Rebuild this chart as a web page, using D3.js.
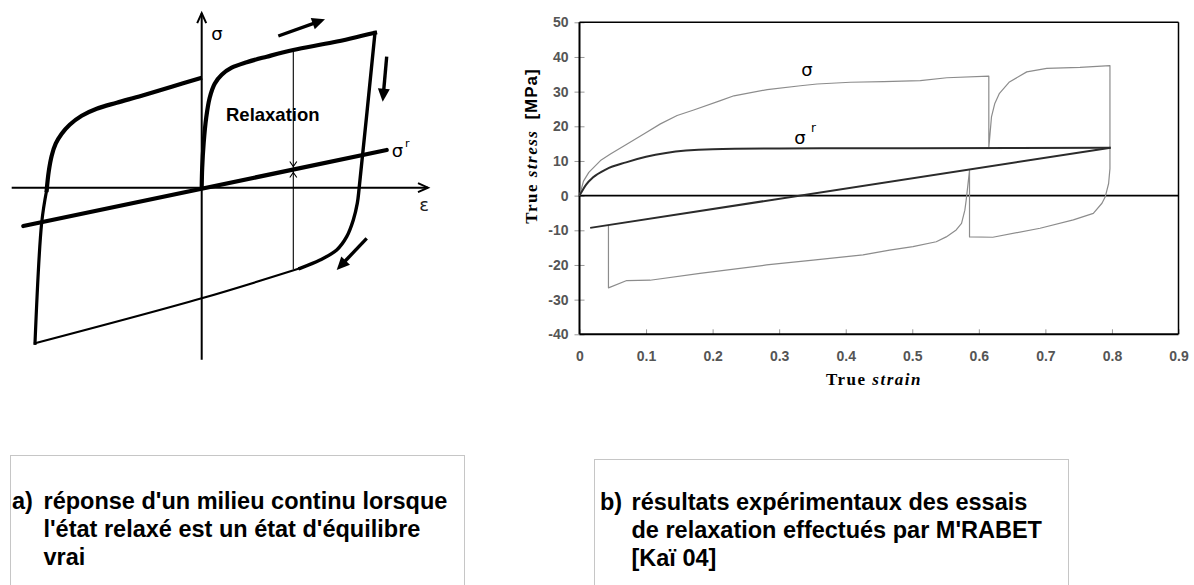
<!DOCTYPE html>
<html>
<head>
<meta charset="utf-8">
<script src="https://cdn.jsdelivr.net/npm/d3@7"></script>
<style>
  html, body { margin: 0; padding: 0; background: #fff; }
  svg { display: block; }
</style>
</head>
<body>
<svg id="fig" width="1194" height="585"></svg>
<script>
// ---------- Panel b: relaxation test, true strain vs true stress (MPa) ----------
const strainTicks = [0, 0.1, 0.2, 0.3, 0.4, 0.5, 0.6, 0.7, 0.8, 0.9];
const stressTicks = [-40, -30, -20, -10, 0, 10, 20, 30, 40, 50];

// total stress sigma, in the order it was recorded
const sigmaFirstLoading = [[0,0],[0.006,4.2],[0.014,6.7],[0.0315,10.1],[0.0465,12.0],[0.0716,14.9],[0.0966,17.8],[0.1216,20.7],[0.1467,23.1],[0.1716,24.7],[0.2117,27.4],[0.232,28.8],[0.282,30.6],[0.332,31.7],[0.357,32.2],[0.407,32.7],[0.457,32.9],[0.512,33.2],[0.552,34.0],[0.615,34.5]];
const sigmaFirstRelaxation = [[0.615,34.5],[0.615,13.9]];
const sigmaReloading = [[0.615,13.9],[0.616,16.0],[0.619,22.7],[0.624,26.6],[0.631,29.5],[0.646,32.8],[0.672,35.7],[0.702,36.7],[0.752,37.0],[0.797,37.5]];
const sigmaUnloading = [[0.797,37.5],[0.797,7.8],[0.795,3.5],[0.790,-0.3],[0.785,-2.2],[0.772,-5.1],[0.742,-7.0],[0.692,-9.4],[0.621,-12.0],[0.586,-11.9]];
const sigmaSecondRelaxation = [[0.586,-11.9],[0.586,7.3]];
const sigmaCompression = [[0.586,7.3],[0.581,-1.3],[0.579,-4.2],[0.574,-8.0],[0.566,-9.9],[0.551,-11.9],[0.536,-13.3],[0.501,-14.7],[0.466,-15.7],[0.426,-17.1],[0.351,-18.6],[0.281,-20.0],[0.181,-22.4],[0.106,-24.4],[0.071,-24.5],[0.0435,-26.6]];
const sigmaThirdRelaxation = [[0.0435,-26.6],[0.0435,-8.5]];

// relaxed stress sigma^r
const sigmaRelaxedCurve = [[0,0],[0.01,3.2],[0.02,5.2],[0.04,7.6],[0.07,9.6],[0.1,11.2],[0.13,12.3],[0.16,13.0],[0.2,13.4],[0.3,13.6],[0.5,13.7],[0.798,13.8]];
const sigmaRelaxedLine = [[0.016,-9.3],[0.798,13.8]];

// ---------- Panel a: schematic cycle (arbitrary units) ----------
const loopLoading = [[0,0],[0.005,0.2],[0.02,0.45],[0.045,0.7],[0.08,0.9],[0.13,1.04],[0.2,1.13],[0.3,1.2],[0.45,1.255],[0.65,1.31],[0.916,1.377],[1.316,1.454],[1.733,1.55]];
const loopUnloading = [[1.733,1.55],[1.576,0.01],[1.556,-0.156],[1.516,-0.323],[1.45,-0.49],[1.35,-0.623],[1.183,-0.723],[0.983,-0.806]];
const loopLowerBranch = [[0.983,-0.806],[0,-1.106],[-1.667,-1.556]];
const loopLeftRise = [[-1.667,-1.556],[-1.6,-0.35],[-1.55,-0.023]];
const loopLeftUpper = [[-1.55,-0.023],[-1.53,0.16],[-1.50,0.32],[-1.46,0.44],[-1.40,0.54],[-1.32,0.63],[-1.20,0.72],[-1.05,0.79],[-0.85,0.85],[-0.6,0.92],[-0.3,1.01],[-0.017,1.094]];
const relaxedStateLine = [[-1.784,-0.383],[1.85,0.377]];
const relaxationMeasure = [[0.916,1.377],[0.916,-0.816]];
const directionArrows = [
  [[0.766,1.517],[1.233,1.684]],
  [[1.85,1.31],[1.81,0.86]],
  [[1.65,-0.506],[1.35,-0.823]]
];
const epsAxisExtent = [-1.9, 2.263];
const sigAxisExtent = [-1.72, 1.745];

// captions
const captionA = ["a)", "réponse d'un milieu continu lorsque", "l'état relaxé est un état d'équilibre", "vrai"];
const captionB = ["b)", "résultats expérimentaux des essais", "de relaxation effectués par M'RABET", "[Kaï 04]"];

const svg = d3.select("#fig");
svg.append("rect").attr("width", 1194).attr("height", 585).attr("fill", "#fff");

// =================== Panel a ===================
const ax = d3.scaleLinear().domain([0, 1]).range([201.7, 301.7]);
const ay = d3.scaleLinear().domain([0, 1]).range([187.7, 87.7]);
const aLine = d3.line().x(d => ax(d[0])).y(d => ay(d[1]));
const aCurve = d3.line().x(d => ax(d[0])).y(d => ay(d[1])).curve(d3.curveCatmullRom.alpha(0.5));
const ga = svg.append("g");

// axes with open arrowheads
ga.append("line").attr("x1", ax(epsAxisExtent[0])).attr("x2", ax(epsAxisExtent[1]))
  .attr("y1", ay(0)).attr("y2", ay(0)).attr("stroke", "#000").attr("stroke-width", 2);
ga.append("line").attr("x1", ax(0)).attr("x2", ax(0))
  .attr("y1", ay(sigAxisExtent[0])).attr("y2", ay(sigAxisExtent[1])).attr("stroke", "#000").attr("stroke-width", 2);
{
  const tx = ax(epsAxisExtent[1]), ty = ay(0);
  ga.append("path").attr("d", `M${tx-10},${ty-4.5}L${tx},${ty}L${tx-10},${ty+4.5}`)
    .attr("fill", "none").attr("stroke", "#000").attr("stroke-width", 2);
  const ux = ax(0), uy = ay(sigAxisExtent[1]);
  ga.append("path").attr("d", `M${ux-4.5},${uy+10}L${ux},${uy}L${ux+4.5},${uy+10}`)
    .attr("fill", "none").attr("stroke", "#000").attr("stroke-width", 2);
}

// relaxed-state line sigma^r
ga.append("path").attr("d", aLine(relaxedStateLine)).attr("fill", "none")
  .attr("stroke", "#000").attr("stroke-width", 4.2).attr("stroke-linecap", "round");

// hysteresis loop, pieces of varying weight
const loopPieces = [
  [loopLoading, 4.2], [loopUnloading, 3.4], [loopLowerBranch, 2.2],
  [loopLeftRise, 3.2], [loopLeftUpper, 4.2]
];
loopPieces.forEach(([pts, w]) => {
  ga.append("path").attr("d", aCurve(pts))
    .attr("fill", "none").attr("stroke", "#000").attr("stroke-width", w)
    .attr("stroke-linejoin", "round").attr("stroke-linecap", "square");
});

// relaxation measure with small arrowheads at sigma^r
ga.append("path").attr("d", aLine(relaxationMeasure)).attr("stroke", "#000").attr("stroke-width", 1.1);
{
  const mx = ax(relaxationMeasure[0][0]);
  const s0 = relaxedStateLine[0], s1 = relaxedStateLine[1];
  const sr = s0[1] + (s1[1] - s0[1]) * (relaxationMeasure[0][0] - s0[0]) / (s1[0] - s0[0]);
  const my = ay(sr);
  ga.append("path").attr("d", `M${mx-3.5},${my-8}L${mx},${my-3}L${mx+3.5},${my-8}`)
    .attr("fill", "none").attr("stroke", "#000").attr("stroke-width", 1.1);
  ga.append("path").attr("d", `M${mx-3.5},${my+8}L${mx},${my+3}L${mx+3.5},${my+8}`)
    .attr("fill", "none").attr("stroke", "#000").attr("stroke-width", 1.1);
}

// direction arrows
directionArrows.forEach(([tail, tip]) => {
  const x0 = ax(tail[0]), y0 = ay(tail[1]), x1 = ax(tip[0]), y1 = ay(tip[1]);
  const dx = x1 - x0, dy = y1 - y0, L = Math.hypot(dx, dy);
  const ux = dx / L, uy = dy / L, hl = 13, hw = 6;
  const bx = x1 - ux * hl, by = y1 - uy * hl;
  ga.append("line").attr("x1", x0).attr("y1", y0).attr("x2", bx + ux).attr("y2", by + uy)
    .attr("stroke", "#000").attr("stroke-width", 3.4);
  ga.append("path").attr("d", `M${x1},${y1}L${bx - uy*hw},${by + ux*hw}L${bx + uy*hw},${by - ux*hw}Z`)
    .attr("fill", "#000");
});

// labels
ga.append("text").attr("x", 217).attr("y", 40).attr("font-family", "DejaVu Sans")
  .attr("font-size", 18).attr("text-anchor", "middle").text("σ");
ga.append("text").attr("x", 424).attr("y", 211).attr("font-family", "DejaVu Sans")
  .attr("font-size", 18).attr("text-anchor", "middle").attr("fill", "#222").text("ε");
ga.append("text").attr("x", 397.5).attr("y", 157).attr("font-family", "DejaVu Sans")
  .attr("font-size", 18).attr("text-anchor", "middle").text("σ");
ga.append("text").attr("x", 405).attr("y", 147).attr("font-family", "DejaVu Sans")
  .attr("font-size", 11).text("r");
ga.append("text").attr("x", 226).attr("y", 121).attr("font-family", "Liberation Sans")
  .attr("font-weight", "bold").attr("font-size", 18.5).text("Relaxation");

// =================== Panel b ===================
const x = d3.scaleLinear().domain([0, 0.9]).range([579.5, 1178.5]);
const y = d3.scaleLinear().domain([-40, 50]).range([334.3, 22.3]);
const line = d3.line().x(d => x(d[0])).y(d => y(d[1]));
const smooth = d3.line().x(d => x(d[0])).y(d => y(d[1])).curve(d3.curveMonotoneX);
const gb = svg.append("g");

// y axis ticks (crossing the frame) and labels
const yAxis = d3.axisLeft(y).tickValues(stressTicks).tickSize(5).tickPadding(8)
  .tickFormat(d => String(d));
const gy = gb.append("g").attr("transform", `translate(${x(0)},0)`).call(yAxis);
gy.select(".domain").remove();
gy.selectAll(".tick line").attr("x1", 5).attr("stroke", "#999");
gy.selectAll(".tick text").attr("font-family", "Liberation Sans").attr("font-weight", "bold")
  .attr("font-size", 14).attr("fill", "#555").attr("x", -11);

// x axis ticks (inside) and labels
const xAxis = d3.axisBottom(x).tickValues(strainTicks).tickSize(-5).tickPadding(17)
  .tickFormat(d => String(d));
const gx = gb.append("g").attr("transform", `translate(0,${y(-40)})`).call(xAxis);
gx.select(".domain").remove();
gx.selectAll(".tick line").attr("stroke", "#999");
gx.selectAll(".tick text").attr("font-family", "Liberation Sans").attr("font-weight", "bold")
  .attr("font-size", 14).attr("fill", "#555");

// frame and zero line
gb.append("line").attr("x1", x(0)).attr("x2", x(0.9)).attr("y1", y(50)).attr("y2", y(50)).attr("stroke", "#000").attr("stroke-width", 1.5);
gb.append("line").attr("x1", x(0.9)).attr("x2", x(0.9)).attr("y1", y(50)).attr("y2", y(-40)).attr("stroke", "#000").attr("stroke-width", 1.5);
gb.append("line").attr("x1", x(0)).attr("x2", x(0)).attr("y1", y(50)).attr("y2", y(-40)).attr("stroke", "#000").attr("stroke-width", 2);
gb.append("line").attr("x1", x(0)).attr("x2", x(0.9)).attr("y1", y(-40)).attr("y2", y(-40)).attr("stroke", "#000").attr("stroke-width", 2);
gb.append("line").attr("x1", x(0)).attr("x2", x(0.9)).attr("y1", y(0)).attr("y2", y(0)).attr("stroke", "#000").attr("stroke-width", 1.6);

// sigma history (thin grey)
const sigmaHistory = [].concat(sigmaFirstLoading, sigmaFirstRelaxation, sigmaReloading, sigmaUnloading,
  sigmaSecondRelaxation, sigmaCompression, sigmaThirdRelaxation);
gb.append("path").attr("d", line(sigmaHistory)).attr("fill", "none")
  .attr("stroke", "#8c8c8c").attr("stroke-width", 1.2).attr("stroke-linejoin", "round");

// relaxed stress (dark)
[sigmaRelaxedCurve, sigmaRelaxedLine].forEach(pts => {
  gb.append("path").attr("d", smooth(pts)).attr("fill", "none")
    .attr("stroke", "#2b2b2b").attr("stroke-width", 2);
});

// curve labels
gb.append("text").attr("x", 807).attr("y", 76).attr("font-family", "DejaVu Sans")
  .attr("font-size", 18).attr("text-anchor", "middle").text("σ");
gb.append("text").attr("x", 800).attr("y", 144).attr("font-family", "DejaVu Sans")
  .attr("font-size", 18).attr("text-anchor", "middle").text("σ");
gb.append("text").attr("x", 811).attr("y", 132).attr("font-family", "DejaVu Sans")
  .attr("font-size", 12).text("r");

// axis titles
const yTitle = gb.append("text").attr("transform", `translate(537,146) rotate(-90)`)
  .attr("text-anchor", "middle").attr("font-weight", "bold");
yTitle.append("tspan").attr("font-family", "Liberation Serif").attr("font-size", 17)
  .attr("letter-spacing", 1.5).text("True ");
yTitle.append("tspan").attr("font-family", "Liberation Serif").attr("font-style", "italic")
  .attr("font-size", 17).attr("letter-spacing", 1.5).text("stress");
yTitle.append("tspan").attr("font-family", "Liberation Sans").attr("font-size", 17)
  .attr("letter-spacing", 1).attr("dx", 10).text("[MPa]");

const xTitle = gb.append("text").attr("x", 874).attr("y", 385)
  .attr("text-anchor", "middle").attr("font-weight", "bold").attr("font-family", "Liberation Serif")
  .attr("font-size", 17).attr("letter-spacing", 1.5);
xTitle.append("tspan").text("True ");
xTitle.append("tspan").attr("font-style", "italic").text("strain");

// =================== Caption boxes ===================
function caption(lines, bx, by, bw, labelX, textX, baselines) {
  svg.append("rect").attr("x", bx + 0.5).attr("y", by + 0.5).attr("width", bw).attr("height", 160)
    .attr("fill", "#fff").attr("stroke", "#c6c6c6").attr("stroke-width", 1);
  const t = svg.append("g").attr("font-family", "Liberation Sans").attr("font-weight", "bold")
    .attr("font-size", 23.5).attr("fill", "#000");
  t.append("text").attr("x", labelX).attr("y", baselines[0]).text(lines[0]);
  lines.slice(1).forEach((s, i) => t.append("text").attr("x", textX).attr("y", baselines[i]).text(s));
}
caption(captionA, 10, 455, 454, 12, 43.5, [508.5, 537, 565]);
caption(captionB, 594, 459, 474, 600, 631.5, [510, 537.5, 565.5]);
</script>
</body>
</html>
